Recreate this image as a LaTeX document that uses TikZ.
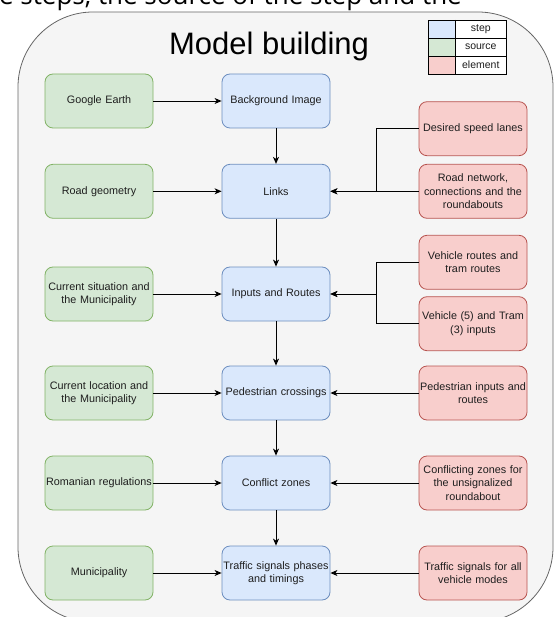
\documentclass[tikz,border=0pt]{standalone}
\usepackage{fontspec}
\setmainfont{Liberation Sans}
\newfontfamily\topfont{Open Sans}
\usetikzlibrary{arrows.meta}
\definecolor{bfill}{HTML}{DAE8FC}
\definecolor{bdraw}{HTML}{6C8EBF}
\definecolor{gfill}{HTML}{D5E8D4}
\definecolor{gdraw}{HTML}{82B366}
\definecolor{rfill}{HTML}{F8CECC}
\definecolor{rdraw}{HTML}{B85450}
\definecolor{cfill}{HTML}{F5F5F5}
\definecolor{cdraw}{HTML}{666666}
\definecolor{txt}{HTML}{1E1E1E}
\begin{document}
\begin{tikzpicture}[x=1pt,y=-1pt,
  box/.style={rounded corners=8pt, minimum width=108pt, minimum height=54pt,
    inner xsep=0pt, inner ysep=1pt, align=center, text width=108pt,
    font=\fontsize{10.8}{13.3}\selectfont, text=txt, line width=0.8pt},
  stepbox/.style={box, fill=bfill, draw=bdraw},
  srcbox/.style={box, fill=gfill, draw=gdraw},
  elbox/.style={box, fill=rfill, draw=rdraw},
  legtxt/.style={font=\fontsize{10.5}{11}\selectfont, text=txt, inner sep=0pt},
  arr/.style={-{Stealth[length=7pt,width=6pt,inset=2pt]}, line width=0.9pt, black}]
\useasboundingbox (0,0) rectangle (557,617);
\clip (0,0) rectangle (557,617);

% cut-off text line at the top
\node[font=\topfont\fontsize{26}{26}\selectfont, anchor=base east, inner sep=0pt] (cut) at (462,4.5) {the steps, the source of the step and the};

% container
\draw[draw=cdraw, fill=cfill, line width=0.8pt, rounded corners=75pt] (18,12) rectangle (553,622);

% title
\node[font=\fontsize{31}{31}\selectfont, anchor=base, inner sep=0pt] (title) at (269,55) {Model building};

% legend
\fill[bfill] (428,20) rectangle (455.5,38);
\fill[gfill] (428,38) rectangle (455.5,56);
\fill[rfill] (428,56) rectangle (455.5,74);
\fill[white] (455.5,20) rectangle (506,74);
\draw[black, line width=0.7pt] (428,20) rectangle (506,74);
\draw[black, line width=0.7pt] (428,38) -- (506,38) (428,56) -- (506,56) (455.5,20) -- (455.5,74);
\node[legtxt] (lstep) at (480.75,29) {step};
\node[legtxt] (lsrc) at (480.75,47) {source};
\node[legtxt] (lel) at (480.75,65) {element};

% nodes
\node[srcbox] (ge) at (99,101) {Google Earth};
\node[stepbox] (bg) at (276,101) {Background Image};
\node[elbox] (dsl) at (473,128.7) {Desired speed lanes};
\node[srcbox] (rg) at (99,191.3) {Road geometry};
\node[stepbox] (links) at (276,191.3) {Links};
\node[elbox] (rn) at (473,191.3) {Road network,\\connections and the\\roundabouts};
\node[elbox] (vr) at (473,262.3) {Vehicle routes and\\tram routes};
\node[srcbox] (cs) at (99,294) {Current situation and\\the Municipality};
\node[stepbox] (ir) at (276,294) {Inputs and Routes};
\node[elbox] (vi) at (473,323.7) {Vehicle (5) and Tram\\(3) inputs};
\node[srcbox] (cl) at (99,393) {Current location and\\the Municipality};
\node[stepbox] (pc) at (276,393) {Pedestrian crossings};
\node[elbox] (pi) at (473,393) {Pedestrian inputs and\\routes};
\node[srcbox] (rr) at (99,483) {Romanian regulations};
\node[stepbox] (cz) at (276,483) {Conflict zones};
\node[elbox] (cfz) at (473,483) {Conflicting zones for\\the unsignalized\\roundabout};
\node[srcbox] (mu) at (99,573) {Municipality};
\node[stepbox] (ts) at (276,573) {Traffic signals phases\\and timings};
\node[elbox] (tsa) at (473,573) {Traffic signals for all\\vehicle modes};

\coordinate (jx) at (376,0);

% connectors
\draw[arr] (ge) -- (bg);
\draw[arr] (bg) -- (links);
\draw[arr] (rg) -- (links);
\draw[arr] (rn) -- (links);
\draw[arr] (dsl.west) -- (dsl.west -| jx) |- (links.east);
\draw[arr] (links) -- (ir);
\draw[arr] (cs) -- (ir);
\draw[arr] (vr.west) -- (vr.west -| jx) |- (ir.east);
\draw[arr] (vi.west) -- (vi.west -| jx) |- (ir.east);
\draw[arr] (ir) -- (pc);
\draw[arr] (cl) -- (pc);
\draw[arr] (pi) -- (pc);
\draw[arr] (pc) -- (cz);
\draw[arr] (rr) -- (cz);
\draw[arr] (cfz) -- (cz);
\draw[arr] (cz) -- (ts);
\draw[arr] (mu) -- (ts);
\draw[arr] (tsa) -- (ts);
\end{tikzpicture}
\end{document}
